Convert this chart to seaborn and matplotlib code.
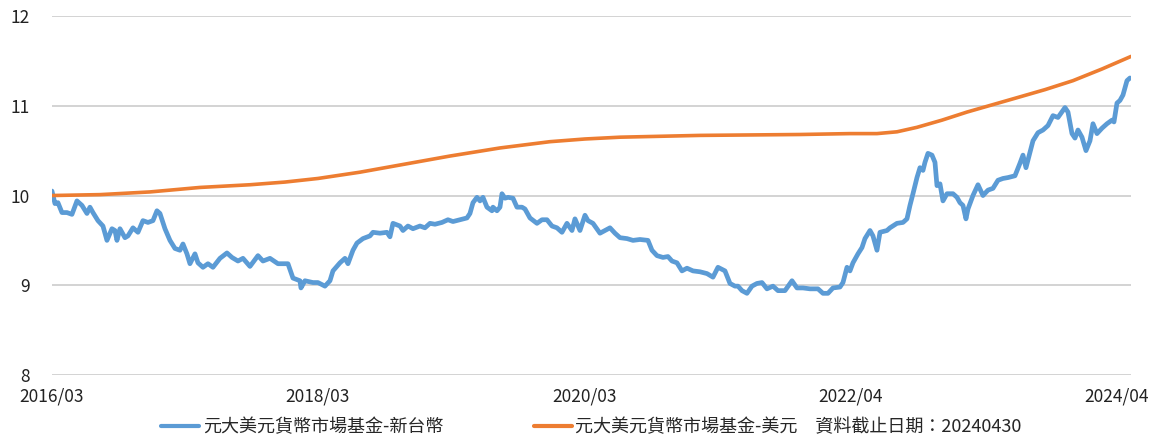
import matplotlib
matplotlib.use("Agg")
import matplotlib.pyplot as plt
import seaborn as sns
import pandas as pd

# 新台幣計價淨值 (交易日序號, 淨值)
twd_t = [0, 6, 12, 20, 30, 40, 50, 60, 70, 76, 82, 92, 102, 110, 120, 126, 130, 136, 146, 152,
         162, 172, 182, 192, 202, 210, 216, 226, 236, 246, 256, 262, 270, 276, 286, 292, 302, 312, 322, 336,
         350, 360, 372, 382, 396, 412, 422, 436, 452, 472, 482, 496, 498, 506, 522, 532, 546, 556, 562, 576,
         586, 592, 602, 610, 622, 636, 642, 656, 670, 676, 682, 696, 702, 712, 722, 736, 746, 756, 766, 780,
         792, 802, 816, 830, 836, 842, 850, 856, 862, 870, 880, 882, 890, 896, 900, 906, 912, 922, 930, 940,
         946, 956, 970, 980, 990, 1000, 1010, 1020, 1030, 1040, 1046, 1056, 1066, 1072, 1082, 1096, 1106, 1116, 1126, 1136,
         1150, 1162, 1176, 1192, 1200, 1210, 1222, 1232, 1240, 1250, 1260, 1270, 1282, 1296, 1310, 1322, 1332, 1346, 1356, 1366,
         1372, 1380, 1390, 1400, 1410, 1420, 1430, 1442, 1452, 1466, 1480, 1490, 1502, 1516, 1532, 1542, 1552, 1562, 1576, 1582,
         1590, 1596, 1602, 1612, 1620, 1626, 1636, 1642, 1650, 1656, 1670, 1676, 1690, 1702, 1710, 1716, 1722, 1730, 1736, 1742,
         1746, 1752, 1760, 1766, 1770, 1776, 1782, 1790, 1802, 1810, 1816, 1822, 1828, 1832, 1842, 1852, 1862, 1872, 1882, 1892,
         1902, 1912, 1926, 1936, 1942, 1948, 1956, 1962, 1972, 1982, 1992, 2002, 2012, 2026, 2032, 2040, 2046, 2052, 2060, 2068,
         2076, 2082, 2090, 2100, 2110, 2120, 2124, 2130, 2136, 2142, 2150, 2156]
twd_nav = [10.05, 9.91, 9.92, 9.81, 9.81, 9.79, 9.94, 9.89, 9.80, 9.87, 9.81, 9.72, 9.66, 9.50, 9.63, 9.61, 9.50, 9.63, 9.53, 9.55,
           9.64, 9.59, 9.72, 9.70, 9.72, 9.83, 9.80, 9.63, 9.50, 9.41, 9.39, 9.46, 9.35, 9.24, 9.35, 9.25, 9.20, 9.24, 9.20, 9.30,
           9.36, 9.31, 9.27, 9.30, 9.21, 9.33, 9.27, 9.30, 9.24, 9.24, 9.08, 9.05, 8.97, 9.05, 9.03, 9.03, 8.99, 9.05, 9.16, 9.25,
           9.30, 9.24, 9.39, 9.47, 9.52, 9.55, 9.59, 9.58, 9.59, 9.54, 9.69, 9.66, 9.61, 9.66, 9.63, 9.66, 9.64, 9.69, 9.68, 9.70,
           9.73, 9.71, 9.73, 9.75, 9.80, 9.92, 9.98, 9.94, 9.98, 9.87, 9.83, 9.87, 9.83, 9.87, 10.02, 9.97, 9.98, 9.97, 9.87, 9.87,
           9.85, 9.75, 9.69, 9.73, 9.73, 9.66, 9.64, 9.59, 9.69, 9.61, 9.74, 9.61, 9.78, 9.72, 9.69, 9.58, 9.61, 9.64, 9.58, 9.53,
           9.52, 9.50, 9.51, 9.50, 9.39, 9.33, 9.31, 9.32, 9.27, 9.25, 9.16, 9.19, 9.16, 9.15, 9.13, 9.09, 9.20, 9.16, 9.02, 8.99,
           8.99, 8.94, 8.91, 8.99, 9.02, 9.03, 8.96, 8.99, 8.94, 8.94, 9.05, 8.97, 8.97, 8.96, 8.96, 8.91, 8.91, 8.97, 8.98, 9.03,
           9.20, 9.16, 9.25, 9.35, 9.42, 9.52, 9.61, 9.55, 9.39, 9.59, 9.61, 9.64, 9.69, 9.70, 9.74, 9.89, 10.02, 10.20, 10.31, 10.28,
           10.37, 10.47, 10.45, 10.37, 10.11, 10.13, 9.94, 10.02, 10.02, 9.98, 9.92, 9.89, 9.74, 9.85, 10.00, 10.12, 10.00, 10.06, 10.08, 10.17,
           10.19, 10.20, 10.22, 10.36, 10.45, 10.31, 10.48, 10.61, 10.70, 10.73, 10.78, 10.89, 10.87, 10.98, 10.93, 10.69, 10.64, 10.73, 10.65, 10.50,
           10.61, 10.80, 10.69, 10.75, 10.80, 10.84, 10.82, 11.03, 11.06, 11.12, 11.28, 11.31]

# 美元計價淨值
usd_t = [0, 96, 196, 296, 396, 466, 532, 616, 696, 796, 896, 996, 1066, 1136, 1296, 1496, 1596, 1650,
         1690, 1730, 1780, 1830, 1880, 1930, 1986, 2042, 2100, 2158]
usd_nav = [10.00, 10.01, 10.04, 10.09, 10.12, 10.15, 10.19, 10.26, 10.34, 10.44, 10.53, 10.60, 10.63, 10.65, 10.67, 10.68,
           10.69, 10.69, 10.71, 10.76, 10.84, 10.93, 11.01, 11.09, 11.18, 11.28, 11.41, 11.55]

tick_pos = [0, 532, 1066, 1598, 2130]
tick_labels = ["2016/03", "2018/03", "2020/03", "2022/04", "2024/04"]
name_twd = "元大美元貨幣市場基金-新台幣"
name_usd = "元大美元貨幣市場基金-美元　資料截止日期：20240430"

sns.set_style("white")
plt.rcParams['font.family'] = ['Noto Sans CJK TC', 'DejaVu Sans']

fig = plt.figure(figsize=(11.65, 4.34), dpi=100)
ax = fig.add_axes([0.0446, 0.136, 0.9262, 0.827])

df_twd = pd.DataFrame({"t": twd_t, "nav": twd_nav})
df_usd = pd.DataFrame({"t": usd_t, "nav": usd_nav})
sns.lineplot(data=df_twd, x="t", y="nav", color="#5B9BD5", lw=3.4, ax=ax, label=name_twd)
sns.lineplot(data=df_usd, x="t", y="nav", color="#ED7D31", lw=2.6, ax=ax, label=name_usd)

ax.set_xlim(0, 2158)
ax.set_ylim(8, 12)
ax.set_yticks([8, 9, 10, 11, 12])
ax.set_xticks(tick_pos)
ax.set_xticklabels(tick_labels)
ax.set_xlabel("")
ax.set_ylabel("")
ax.grid(axis="y", color="#D0D0D0", lw=1.3)
ax.grid(axis="x", visible=False)
ax.set_axisbelow(True)
for s in ax.spines.values():
    s.set_visible(False)
ax.tick_params(axis="both", length=0, labelsize=12.5, colors="#222222")
ax.tick_params(axis="x", pad=9)
ax.tick_params(axis="y", pad=16)

leg = ax.legend(loc="upper center", bbox_to_anchor=(0.5, -0.075), ncol=2, frameon=False,
                fontsize=13, handlelength=2.1, columnspacing=5, handletextpad=0.2)
for h in leg.get_lines():
    h.set_linewidth(3)

plt.savefig("out.png", dpi=100)
plt.close()
